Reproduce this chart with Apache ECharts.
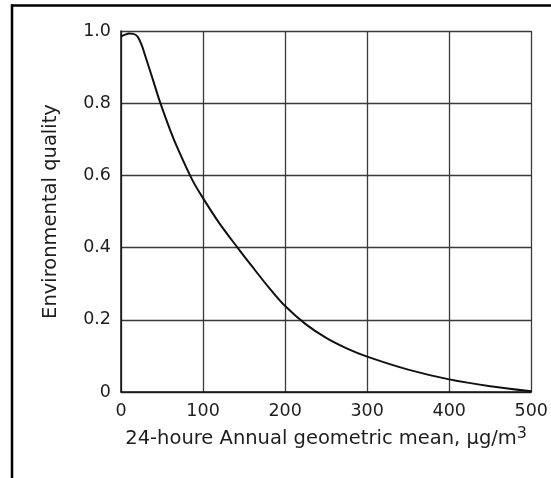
<!DOCTYPE html>
<html>
<head>
<meta charset="utf-8">
<script src="https://cdn.jsdelivr.net/npm/echarts@6/dist/echarts.min.js"></script>
<style>
html,body{margin:0;padding:0;background:#fff;}
#chart{width:551px;height:478px;}
</style>
</head>
<body>
<div id="chart"></div>
<script>
// Data
var concentration = [0, 5, 10, 15, 20, 25, 30, 40, 48, 60, 70, 87, 100, 120, 142, 160, 180, 200, 225, 250, 275, 300, 350, 400, 450, 500];
var quality =       [0.985, 0.99, 0.993, 0.992, 0.985, 0.962, 0.928, 0.857, 0.80, 0.725, 0.67, 0.587, 0.537, 0.467, 0.40, 0.347, 0.29, 0.238, 0.188, 0.15, 0.121, 0.098, 0.062, 0.035, 0.016, 0.002];
var xTickLabels = ['0', '100', '200', '300', '400', '500'];
var yTickLabels = ['0', '0.2', '0.4', '0.6', '0.8', '1.0'];

var points = concentration.map(function (c, i) { return [c, quality[i]]; });
var font = 'DejaVu Sans';
var txt = '#1e1e1e';

var chart = echarts.init(document.getElementById('chart'));
chart.setOption({
  backgroundColor: '#ffffff',
  animation: false,
  grid: { left: 121, right: 18, top: 31, bottom: 86, containLabel: false },
  xAxis: {
    type: 'value', min: 0, max: 500, interval: 100,
    name: '24-houre Annual geometric mean, {mu|μ}g/m{sup|3}',
    nameLocation: 'middle', nameGap: 34,
    nameTextStyle: {
      fontFamily: font, fontSize: 19.5, color: txt,
      rich: {
        mu: { fontFamily: font, fontSize: 19.5, color: txt },
        sup: { fontFamily: font, fontSize: 16, color: txt, padding: [0, 0, 10, 0] }
      }
    },
    axisLine: { show: true, lineStyle: { color: '#111', width: 1.5 } },
    axisTick: { show: false },
    splitLine: { show: true, lineStyle: { color: '#3a3a3a', width: 1.3 } },
    axisLabel: {
      margin: 10, fontFamily: font, fontSize: 17.5, color: txt,
      formatter: function (v) { return xTickLabels[Math.round(v / 100)]; }
    }
  },
  yAxis: {
    type: 'value', min: 0, max: 1, interval: 0.2,
    name: 'Environmental quality',
    nameLocation: 'middle', nameGap: 60, nameRotate: 90,
    nameTextStyle: { fontFamily: font, fontSize: 19.5, color: txt },
    axisLine: { show: true, lineStyle: { color: '#111', width: 1.5 } },
    axisTick: { show: false },
    splitLine: { show: true, lineStyle: { color: '#3a3a3a', width: 1.3 } },
    axisLabel: {
      margin: 10, fontFamily: font, fontSize: 17.5, color: txt,
      formatter: function (v) { return yTickLabels[Math.round(v / 0.2)]; }
    }
  },
  series: [{
    type: 'line',
    data: points,
    smooth: 0.35,
    showSymbol: false,
    lineStyle: { color: '#111', width: 2 },
    z: 5
  }],
  graphic: [
    { type: 'line', shape: { x1: 11, y1: 5.5, x2: 551, y2: 5.5 }, style: { stroke: '#000', lineWidth: 2.5 } },
    { type: 'line', shape: { x1: 12, y1: 4.5, x2: 12, y2: 478 }, style: { stroke: '#000', lineWidth: 2.5 } }
  ]
});
</script>
</body>
</html>
